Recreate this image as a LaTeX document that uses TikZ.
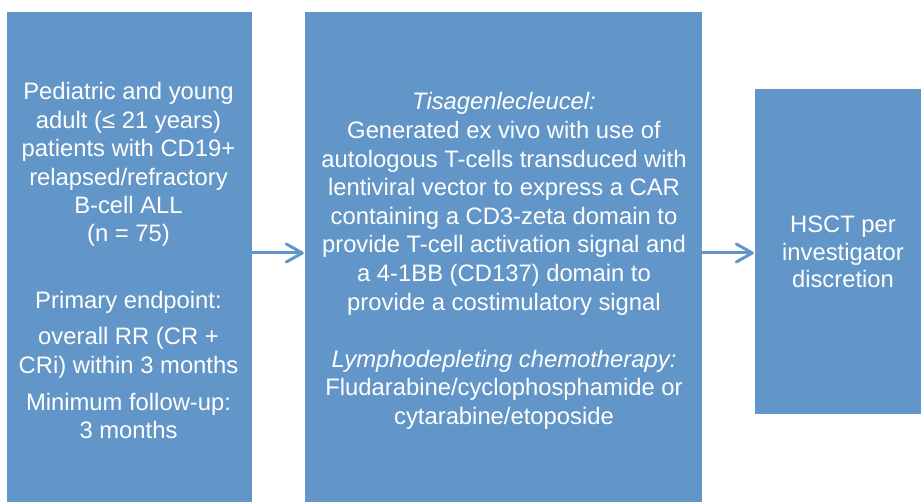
\documentclass[tikz,border=0pt]{standalone}
\usepackage{fontspec}
\setmainfont{Liberation Sans}
\usetikzlibrary{arrows.meta}
\definecolor{boxblue}{RGB}{98,150,200}
\begin{document}
\begin{tikzpicture}[x=1pt,y=-1pt,
  panel/.style={fill=boxblue, draw=none, inner sep=0pt},
  txt/.style={text=white, inner sep=0pt, anchor=base},
  flow/.style={draw=boxblue, line width=3pt, shorten >=1pt,
    -{Straight Barb[length=16pt,width=18pt,round]}}]
\useasboundingbox (0,0) rectangle (921,502);
\node[panel, minimum width=245pt, minimum height=490pt] (left) at (129.5,257) {};
\node[panel, minimum width=397pt, minimum height=490pt] (mid) at (503.5,257) {};
\node[panel, minimum width=166pt, minimum height=325pt] (right) at (838,251.5) {};
\node[txt, font=\fontsize{23.8}{28.4}\selectfont] (lefttext) at (128.5,100)
  {\begin{tabular}[t]{@{}c@{}}Pediatric and young\\ adult (≤ 21 years)\\ patients with CD19+\\ relapsed/refractory\\ B-cell ALL\\ (n = 75)\\ \\[9.5pt] Primary endpoint:\\[8.3pt] overall RR (CR +\\ CRi) within 3 months\\[8.3pt] Minimum follow-up:\\ 3 months\end{tabular}};
\node[txt, font=\fontsize{23.8}{28.6}\selectfont] (midtext) at (504,110)
  {\begin{tabular}[t]{@{}c@{}}\textit{Tisagenlecleucel:}\\ Generated ex vivo with use of\\ autologous T-cells transduced with\\ lentiviral vector to express a CAR\\ containing a CD3-zeta domain to\\ provide T-cell activation signal and\\ a 4-1BB (CD137) domain to\\ provide a costimulatory signal\\ \\ \textit{Lymphodepleting chemotherapy:}\\ Fludarabine/cyclophosphamide or\\ cytarabine/etoposide\end{tabular}};
\node[txt, font=\fontsize{23.8}{27.5}\selectfont] (righttext) at (843,233)
  {\begin{tabular}[t]{@{}c@{}}HSCT per\\ investigator\\ discretion\end{tabular}};
\draw[flow] ([yshift=4pt]left.east) -- ([yshift=4pt]left.east -| mid.west);
\draw[flow] ([yshift=4pt]mid.east) -- ([yshift=4pt]mid.east -| right.west);
\end{tikzpicture}
\end{document}
